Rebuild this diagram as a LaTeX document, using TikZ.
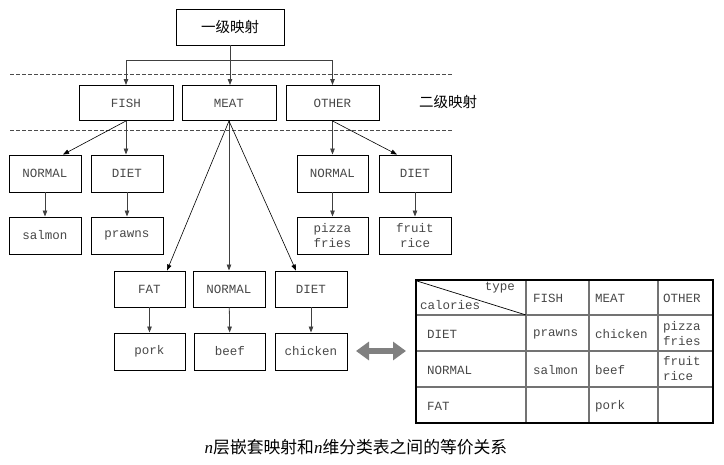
\documentclass[tikz,border=0pt]{standalone}
\usepackage{fontspec}
\setmainfont{Liberation Serif}
\setmonofont{Liberation Mono}
\newfontfamily\cjk{Noto Sans CJK SC}
\usetikzlibrary{arrows.meta}
\begin{document}
\begin{tikzpicture}[x=1pt,y=-1pt,
  box/.style={draw=black, line width=0.9pt, inner sep=0pt, minimum height=36pt,
    font=\fontsize{12.5}{14}\ttfamily, text=black!72, align=center},
  arr/.style={draw=black!75, line width=0.8pt, -{Triangle[length=6pt,width=4.5pt]}},
  thin/.style={draw=black, line width=0.6pt, -{Triangle[length=6pt,width=4.5pt]}},
  sep/.style={draw=black!70, line width=0.6pt, dash pattern=on 3.5pt off 2.5pt},
  cell/.style={font=\fontsize{12.5}{14}\ttfamily, text=black!72, inner sep=0pt, anchor=west, align=left},
  grid/.style={draw=black!55, line width=1.1pt}]
\useasboundingbox (0,0) rectangle (724,465);

% first level
\node[box, minimum width=108pt, minimum height=36pt, font=\fontsize{14.5}{16}\cjk, text=black] (top) at (230,27) {一级映射};

% level separators
\coordinate (s1a) at (10,74);  \coordinate (s1b) at (452,74);
\coordinate (s2a) at (10,130); \coordinate (s2b) at (452,130);
\draw[sep] (s1a) -- (s1b);
\draw[sep] (s2a) -- (s2b);

% second level
\node[box, minimum width=94pt, minimum height=35pt] (fish)  at (126,103) {FISH};
\node[box, minimum width=94pt, minimum height=35pt] (meat)  at (229,103) {MEAT};
\node[box, minimum width=93pt, minimum height=35pt] (other) at (332.5,103) {OTHER};
\node[font=\fontsize{14.5}{16}\cjk, anchor=west, inner sep=0pt] (lvl2) at (419,102) {二级映射};

\coordinate (bar) at (230,60);
\draw[arr] (top.south) -- (top.south |- meat.north);
\draw[arr] (bar) -| (fish.north);
\draw[arr] (bar) -| (other.north);

% FISH branch
\node[box, minimum width=72pt, minimum height=37pt] (fn) at (45,173.5) {NORMAL};
\node[box, minimum width=72pt, minimum height=37pt] (fd) at (127,173.5) {DIET};
\node[box, minimum width=72pt, minimum height=37pt] (salmon) at (45,235.5) {salmon};
\node[box, minimum width=72pt, minimum height=37pt] (prawns) at (127,235.5) {prawns};
\draw[thin] (fish.south) -- ([xshift=18pt]fn.north);
\draw[arr] (fish.south) -- (fish.south |- fd.north);
\draw[arr] (fn) -- (salmon);
\draw[arr] (fd) -- (prawns);

% OTHER branch
\node[box, minimum width=71pt, minimum height=37pt] (on) at (332.5,173.5) {NORMAL};
\node[box, minimum width=72pt, minimum height=37pt] (od) at (415,173.5) {DIET};
\node[box, minimum width=71pt, minimum height=37pt, font=\fontsize{12.5}{15.5}\ttfamily] (pizza) at (332.5,235.5) {pizza\\fries};
\node[box, minimum width=72pt, minimum height=37pt, font=\fontsize{12.5}{15.5}\ttfamily] (fruit) at (415,235.5) {fruit\\rice};
\draw[arr] (other.south) -- (other.south |- on.north);
\draw[thin] (other.south) -- ([xshift=-18pt]od.north);
\draw[arr] (on) -- (pizza);
\draw[arr] (od) -- (fruit);

% MEAT branch
\node[box, minimum width=71pt, minimum height=36pt] (mf) at (149.5,289) {FAT};
\node[box, minimum width=72pt, minimum height=36pt] (mn) at (229,289) {NORMAL};
\node[box, minimum width=72pt, minimum height=36pt] (md) at (311,289) {DIET};
\node[box, minimum width=71pt, minimum height=37pt] (pork) at (149.5,351.5) {pork};
\node[box, minimum width=71pt, minimum height=37pt] (beef) at (230,351.5) {beef};
\node[box, minimum width=72pt, minimum height=37pt] (chicken) at (311,351.5) {chicken};
\draw[thin] (meat.south) -- ([xshift=17.5pt]mf.north);
\draw[arr] (meat.south) -- (meat.south |- mn.north);
\draw[thin] (meat.south) -- ([xshift=-15pt]md.north);
\draw[arr] (mf) -- (pork);
\draw[arr] (mn) -- (beef);
\draw[arr] (md) -- (chicken);

% equivalence arrow
\coordinate (ea) at (356,351);
\coordinate (eb) at (406,351);
\draw[draw=black!50, fill=black!50, line width=6pt,
  {Triangle[length=13pt,width=18pt]}-{Triangle[length=13pt,width=18pt]}] (ea) -- (eb);

% table
\draw[grid] (416,315) -- (713,315);
\draw[grid] (416,351) -- (713,351);
\draw[grid] (416,387) -- (713,387);
\draw[grid] (526,280) -- (526,423);
\draw[grid] (589,280) -- (589,423);
\draw[grid] (658,280) -- (658,423);
\draw[draw=black, line width=0.7pt] (417,281) -- (526,315);
\draw[draw=black, line width=1.1pt] (416,280) rectangle (713,423);

\node[cell, anchor=east] (ttype) at (515,288) {type};
\node[cell] (tcal) at (420,305) {calories};
\node[cell] (hfish) at (533,298) {FISH};
\node[cell] (hmeat) at (595,298) {MEAT};
\node[cell] (hother) at (663,298) {OTHER};
\node[cell] (rdiet) at (427,334) {DIET};
\node[cell] (rnormal) at (427,370) {NORMAL};
\node[cell] (rfat) at (427,406) {FAT};
\node[cell] (c11) at (533,334) {prawns};
\node[cell] (c12) at (595,334) {chicken};
\node[cell, font=\fontsize{12.5}{15}\ttfamily] (c13) at (663,334) {pizza\\fries};
\node[cell] (c21) at (533,370) {salmon};
\node[cell] (c22) at (595,370) {beef};
\node[cell, font=\fontsize{12.5}{15}\ttfamily] (c23) at (663,369) {fruit\\rice};
\node[cell] (c32) at (595,406) {pork};

% caption
\node[font=\fontsize{16.8}{19}\cjk, inner sep=0pt] (cap) at (356,447)
  {{\fontsize{17}{19}\selectfont\rmfamily\itshape n}层嵌套映射和{\fontsize{17}{19}\selectfont\rmfamily\itshape n}维分类表之间的等价关系};
\end{tikzpicture}
\end{document}
